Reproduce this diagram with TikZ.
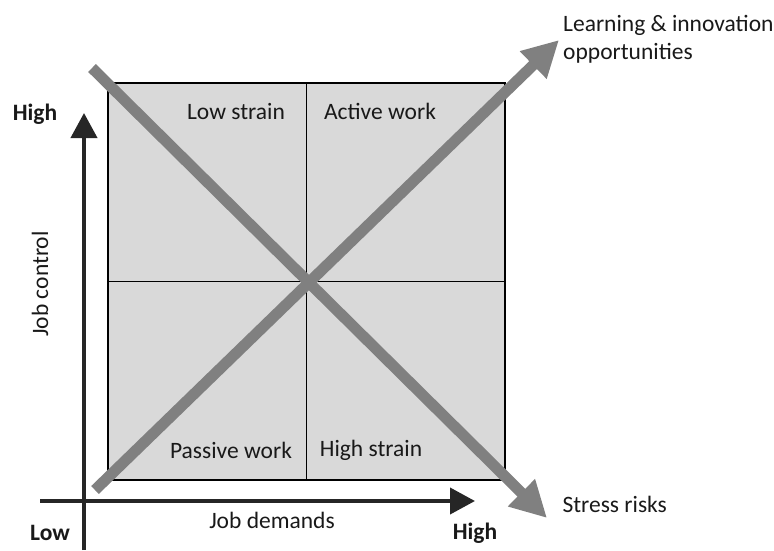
\documentclass[tikz,border=0pt]{standalone}
\usepackage{fontspec}
\setmainfont{Carlito}
\usetikzlibrary{positioning,arrows.meta}

\definecolor{boxgray}{HTML}{D9D9D9}
\definecolor{arrowgray}{HTML}{808080}
\definecolor{axisdark}{HTML}{262626}

\begin{document}
\begin{tikzpicture}[x=1pt, y=-1pt,
    every node/.style={font=\fontsize{23.5}{28}\selectfont, text=black!90},
    quad/.style={draw=black, line width=1.5pt, fill=boxgray, minimum width=198.5pt, minimum height=198.5pt, inner sep=0pt, outer sep=0pt},
    trend/.style={draw=arrowgray, line width=11pt, -{Triangle[width=36pt, length=36pt]}},
    axis/.style={draw=axisdark, line width=4pt, -{Triangle[width=26pt, length=25pt]}},
    axislabel/.style={font=\bfseries\fontsize{23.5}{28}\selectfont}]

    \useasboundingbox (0,0) rectangle (774,550);

    % quadrants
    \node[quad] (tl) at (207.25,182.25) {};
    \node[quad, right=0pt of tl] (tr) {};
    \node[quad, below=0pt of tl] (bl) {};
    \node[quad, below=0pt of tr] (br) {};

    \node (lowstrain) at (236,111) {Low strain};
    \node (activework) at (380,111) {Active work};
    \node (passivework) at (231,450) {Passive work};
    \node (highstrain) at (371,450) {High strain};

    % trends
    \coordinate (stressstart) at (92,68);
    \coordinate (stresstip) at (547,518);
    \coordinate (learnstart) at (95,490);
    \coordinate (learntip) at (559,40);
    \draw[trend] (stressstart) -- (stresstip);
    \draw[trend] (learnstart) -- (learntip);

    \node[anchor=west] (stress) at (559,504) {Stress risks};
    \node[anchor=north west, align=left, inner sep=0pt] (learning) at (563,15) {Learning \& innovation\\opportunities};

    % axes
    \coordinate (ybottom) at (84,550);
    \coordinate (ytop) at (84,113);
    \coordinate (xleft) at (40,501);
    \coordinate (xright) at (475,501);
    \draw[axis] (ybottom) -- (ytop);
    \draw[axis] (xleft) -- (xright);

    \node[axislabel] (highy) at (35,114) {High};
    \node[axislabel] (lowx) at (50,533) {Low};
    \node[axislabel] (highx) at (475,533) {High};
    \node (jobdemands) at (272,520) {Job demands};
    \node[rotate=90] (jobcontrol) at (40,284) {Job control};

\end{tikzpicture}
\end{document}
